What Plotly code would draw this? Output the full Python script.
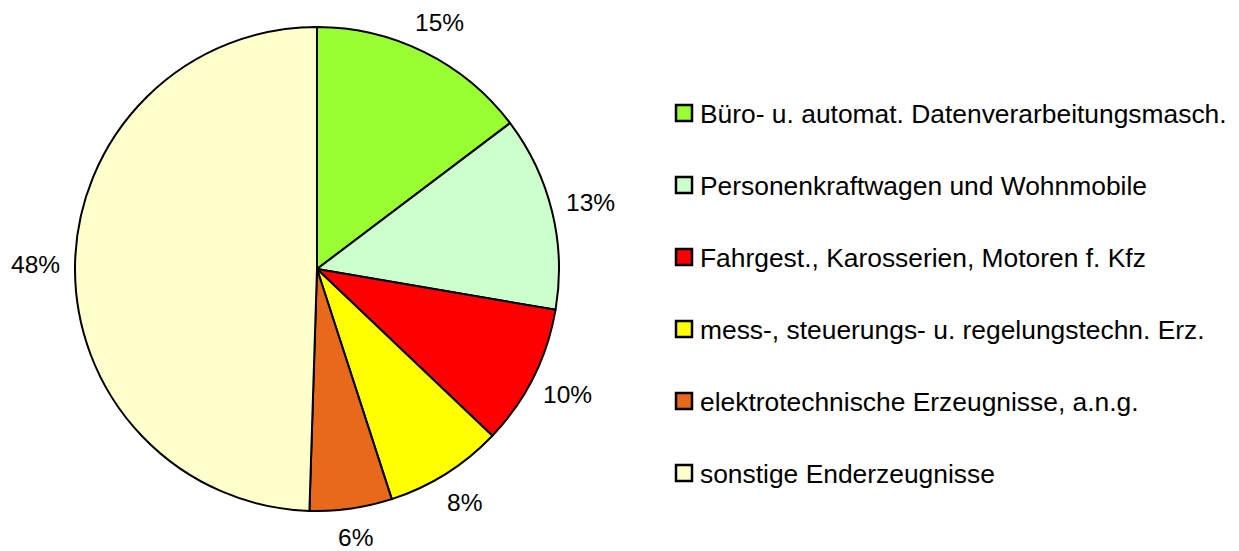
import math
import plotly.graph_objects as go

categories = [
    "Büro- u. automat. Datenverarbeitungsmasch.",
    "Personenkraftwagen und Wohnmobile",
    "Fahrgest., Karosserien, Motoren f. Kfz",
    "mess-, steuerungs- u. regelungstechn. Erz.",
    "elektrotechnische Erzeugnisse, a.n.g.",
    "sonstige Enderzeugnisse",
]
values = [14.7, 13.0, 9.4, 7.9, 5.5, 49.5]
value_labels = ["15%", "13%", "10%", "8%", "6%", "48%"]
colors = ["#99FF33", "#CCFFCC", "#FF0000", "#FFFF00", "#E8691C", "#FFFFCC"]

W, H = 1239, 551
FONT = "Liberation Sans, Arial, sans-serif"

# pie geometry (pixels)
cx_px, cy_px, R = 317, 269, 242

fig = go.Figure()
fig.add_trace(go.Pie(
    labels=categories,
    values=values,
    sort=False,
    direction="clockwise",
    rotation=0,
    marker=dict(colors=colors, line=dict(color="black", width=2)),
    textinfo="none",
    hoverinfo="label+percent",
    showlegend=False,
    domain=dict(x=[(cx_px - R) / W, (cx_px + R) / W],
                y=[1 - (cy_px + R) / H, 1 - (cy_px - R) / H]),
))

annotations = []
shapes = []
total = sum(values)
cum = 0.0
for v, lab in zip(values, value_labels):
    mid = (cum + v / 2) / total * 2 * math.pi
    cum += v
    s, c = math.sin(mid), math.cos(mid)
    r = R + 28 + 12 * abs(s)
    x = cx_px + r * s
    y = cy_px - r * c
    annotations.append(dict(
        x=x / W, y=1 - y / H, xref="paper", yref="paper",
        text=lab, showarrow=False, xanchor="center", yanchor="middle",
        font=dict(family=FONT, size=24.5, color="black"),
    ))

# custom legend
leg_x0, leg_y0, leg_gap, box = 676, 113, 72, 16
for i, (cat, col) in enumerate(zip(categories, colors)):
    yc = leg_y0 + i * leg_gap
    shapes.append(dict(
        type="rect", xref="paper", yref="paper",
        x0=leg_x0 / W, x1=(leg_x0 + box) / W,
        y0=1 - (yc + box / 2) / H, y1=1 - (yc - box / 2) / H,
        fillcolor=col, line=dict(color="black", width=2.5),
    ))
    annotations.append(dict(
        x=(leg_x0 + box + 6) / W, y=1 - (yc + 1) / H, xref="paper", yref="paper",
        text=cat, showarrow=False, xanchor="left", yanchor="middle",
        font=dict(family=FONT, size=26.4, color="black"),
    ))

fig.update_layout(
    width=W, height=H,
    margin=dict(l=0, r=0, t=0, b=0),
    paper_bgcolor="white", plot_bgcolor="white",
    annotations=annotations, shapes=shapes,
)
fig.write_html("out.html", config={"displayModeBar": False})

with open("out.html", "r", encoding="utf-8") as f:
    html = f.read()
html = html.replace("<body>", '<body style="margin:0;padding:0;overflow:hidden">', 1)
with open("out.html", "w", encoding="utf-8") as f:
    f.write(html)
